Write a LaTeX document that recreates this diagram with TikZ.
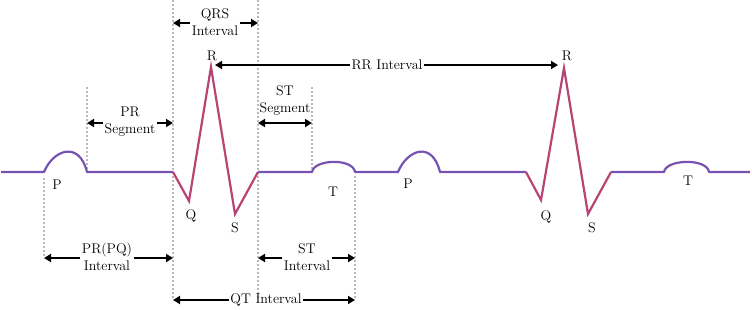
\documentclass[tikz,border=0pt]{standalone}
\usepackage{tikz}
\usetikzlibrary{arrows.meta,positioning,calc}

\definecolor{ecgline}{RGB}{118,82,178}
\definecolor{qrsline}{RGB}{184,68,116}

\begin{document}
\begin{tikzpicture}[x=1pt, y=-1pt,
    wave/.style={line width=2.2pt, color=ecgline, line join=round},
    qrs/.style={line width=2.2pt, color=qrsline, line join=miter},
    guide/.style={gray!55, line width=1.8pt, dash pattern=on 1.6pt off 2.4pt},
    span/.style={line width=1.9pt, -{Triangle[length=7pt,width=8pt]}},
    dspan/.style={line width=1.9pt, {Triangle[length=7pt,width=8pt]}-{Triangle[length=7pt,width=8pt]}},
    lbl/.style={font=\fontsize{14}{17}\selectfont, inner sep=1.5pt, align=center}]
    \useasboundingbox (0,0) rectangle (752,309);

    % guide lines
    \draw[guide] (44,178) -- (44,258);
    \draw[guide] (87,87) -- (87,172);
    \draw[guide] (173,0) -- (173,300);
    \draw[guide] (258,0) -- (258,300);
    \draw[guide] (312,87) -- (312,172);
    \draw[guide] (355,176) -- (355,300);

    % ECG trace
    \draw[wave] (1,172) -- (44,172) .. controls (53,150) and (79,140) .. (87,172) -- (173,172);
    \draw[qrs] (173,172) -- (189,201) -- (211,67) -- (235,214) -- (258,172);
    \draw[wave] (258,172) -- (312,172) .. controls (314,159) and (353,158) .. (355,172)
        -- (398,172) .. controls (407,150) and (432,140) .. (440,172) -- (526,172);
    \draw[qrs] (526,172) -- (541,200) -- (564,68) -- (588,214) -- (611,172);
    \draw[wave] (611,172) -- (664,172) .. controls (666,159) and (707,158) .. (709,172) -- (750,172);

    % wave labels
    \node[lbl] (p1) at (57,185) {P};
    \node[lbl] (q1) at (191,216) {Q};
    \node[lbl] (r1) at (212,56) {R};
    \node[lbl] (s1) at (235,228) {S};
    \node[lbl] (t1) at (333,192) {T};
    \node[lbl] (p2) at (408,184) {P};
    \node[lbl] (q2) at (546,217) {Q};
    \node[lbl] (r2) at (567,56) {R};
    \node[lbl] (s2) at (592,228) {S};
    \node[lbl] (t2) at (688,181) {T};

    % arrow ends
    \coordinate (qrsL) at (173,23);
    \coordinate (qrsR) at (258,23);
    \coordinate (rrL) at (215,65);
    \coordinate (rrR) at (558,65);
    \coordinate (prsegL) at (87,123);
    \coordinate (prsegR) at (173,123);
    \coordinate (stsegL) at (258,123);
    \coordinate (stsegR) at (312,123);
    \coordinate (prL) at (44,258);
    \coordinate (prR) at (173,258);
    \coordinate (stL) at (258,258);
    \coordinate (stR) at (355,258);
    \coordinate (qtL) at (173,300);
    \coordinate (qtR) at (355,300);

    % interval labels
    \node[lbl] (qrsint) at (215,22) {QRS\\Interval};
    \node[lbl] (rrint) at (387,65) {RR Interval};
    \node[lbl] (prseg) at (130,122) {PR\\Segment};
    \node[lbl] (stseg) at (285,101) {ST\\Segment};
    \node[lbl] (print) at (107,257) {PR(PQ)\\Interval};
    \node[lbl] (stint) at (307,257) {ST\\Interval};
    \node[lbl] (qtint) at (266,300) {QT Interval};

    % arrows
    \draw[span] (qrsint.west |- qrsL) -- (qrsL);
    \draw[span] (qrsint.east |- qrsR) -- (qrsR);
    \draw[span] (rrint.west) -- (rrL);
    \draw[span] (rrint.east) -- (rrR);
    \draw[span] (prseg.west |- prsegL) -- (prsegL);
    \draw[span] (prseg.east |- prsegR) -- (prsegR);
    \draw[dspan] (stsegL) -- (stsegR);
    \draw[span] (print.west |- prL) -- (prL);
    \draw[span] (print.east |- prR) -- (prR);
    \draw[span] (stint.west |- stL) -- (stL);
    \draw[span] (stint.east |- stR) -- (stR);
    \draw[span] (qtint.west) -- (qtL);
    \draw[span] (qtint.east) -- (qtR);
\end{tikzpicture}
\end{document}
